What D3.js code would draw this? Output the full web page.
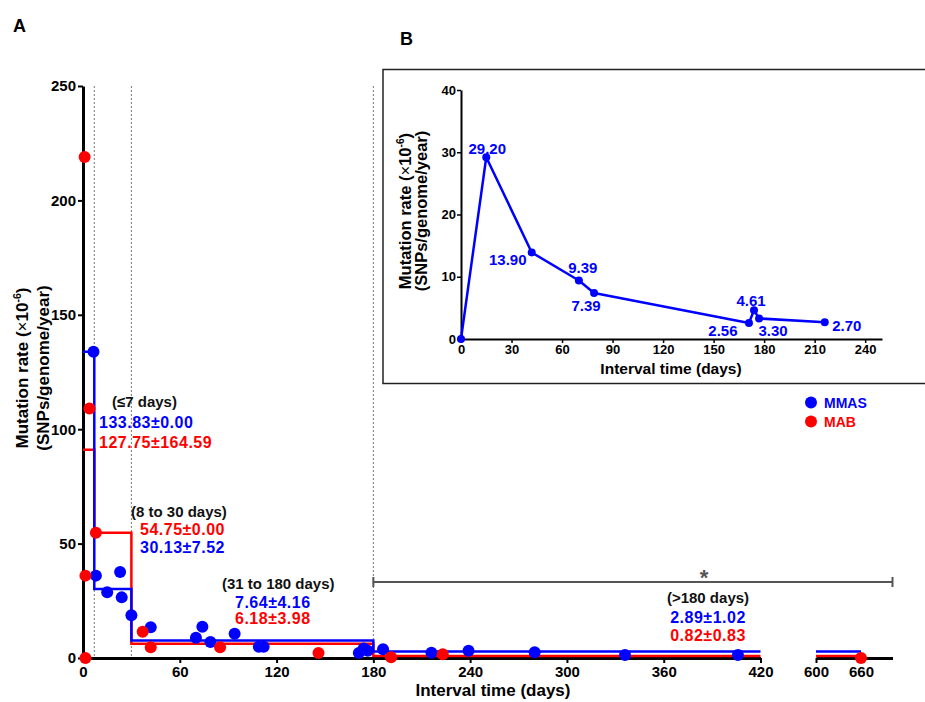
<!DOCTYPE html>
<html><head><meta charset="utf-8">
<script src="https://cdn.jsdelivr.net/npm/d3@7"></script>
<style>
body{margin:0;background:#fff}
svg{display:block;font-family:Arial,"Liberation Sans",sans-serif;font-weight:bold}
</style>
</head><body>
<svg id="c" width="925" height="702"></svg>
<script>
// ---------- data (panel A) ----------
const mmasDays  = [6.5, 8, 15, 23, 24, 30, 42, 70, 74, 79, 94, 109, 112, 171, 174, 176.5, 186, 216, 239, 280, 336, 406];
const mmasRates = [133.8, 36, 28.7, 37.6, 26.5, 18.7, 13.4, 8.9, 13.7, 7.0, 10.6, 4.9, 4.9, 2.2, 4.2, 3.2, 3.8, 2.3, 3.2, 2.5, 1.3, 1.3];
const mabDays   = [1, 1.5, 1.5, 4, 8, 37, 42, 85, 146, 191, 223, 660];
const mabRates  = [219, 36, 0, 109, 54.75, 11.5, 4.7, 4.7, 2.2, 0.3, 1.6, 0];
const groupBreaks = [0, 7, 30, 180, 420];
const tailBreaks  = [600, 660];
const mmasMeans = [133.83, 30.13, 7.64, 2.89];
const mabMeans  = [91, 54.75, 6.18, 0.82];
const groupLabels = ["(\u22647 days)", "(8 to 30 days)", "(31 to 180 days)", "(>180 days)"];
const mmasText = ["133.83\u00b10.00", "30.13\u00b17.52", "7.64\u00b14.16", "2.89\u00b11.02"];
const mabText  = ["127.75\u00b1164.59", "54.75\u00b10.00", "6.18\u00b13.98", "0.82\u00b10.83"];
const yTicks  = [0, 50, 100, 150, 200, 250];
const xTicksA = [0, 60, 120, 180, 240, 300, 360, 420];
const xTicksB = [600, 660];
const seriesNames = ["MMAS", "MAB"];
// ---------- data (panel B) ----------
const insetDays   = [0, 15, 42, 70, 79, 171, 174, 177, 216];
const insetRates  = [0, 29.20, 13.90, 9.39, 7.39, 2.56, 4.61, 3.30, 2.70];
const insetLabels = ["", "29.20", "13.90", "9.39", "7.39", "2.56", "4.61", "3.30", "2.70"];
const insetXTicks = [0, 30, 60, 90, 120, 150, 180, 210, 240];
const insetYTicks = [0, 10, 20, 30, 40];

// ---------- setup ----------
const BLUE = "#0000ff", RED = "#ff0000", GREY = "#555555";
const svg = d3.select("#c");
const xA = d3.scaleLinear().domain([0, 420]).range([83, 760.5]);
const xB = d3.scaleLinear().domain([600, 702]).range([816, 892.5]);
const X = d => d >= 600 ? xB(d) : xA(d);
const y = d3.scaleLinear().domain([0, 250]).range([658, 86]);

// panel letters
svg.append("text").attr("x", 13).attr("y", 32).attr("font-size", 18).text("A");
svg.append("text").attr("x", 400).attr("y", 45).attr("font-size", 18).text("B");

// dotted verticals
svg.append("g").selectAll("line").data([7, 30, 180]).join("line")
  .attr("x1", d => xA(d)).attr("x2", d => xA(d))
  .attr("y1", y(250)).attr("y2", y(0))
  .attr("stroke", GREY).attr("stroke-width", 0.8).attr("stroke-dasharray", "2,2");

// axes
function styleAxis(g, w) {
  g.select(".domain").attr("stroke", "#000").attr("stroke-width", w);
  g.selectAll(".tick line").attr("stroke", "#000").attr("stroke-width", 2);
  g.selectAll(".tick text").attr("font-size", 15).attr("font-weight", "bold")
    .attr("font-family", "Arial, 'Liberation Sans', sans-serif").attr("fill", "#000");
}
const gy = svg.append("g").attr("transform", "translate(83,0)")
  .call(d3.axisLeft(y).tickValues(yTicks).tickSize(5).tickSizeOuter(0).tickPadding(2));
styleAxis(gy, 3);
const gxA = svg.append("g").attr("transform", "translate(0,658)")
  .call(d3.axisBottom(xA).tickValues(xTicksA).tickSize(5).tickSizeOuter(0).tickPadding(3));
styleAxis(gxA, 3);
const gxB = svg.append("g").attr("transform", "translate(0,658)")
  .call(d3.axisBottom(xB).tickValues(xTicksB).tickSize(5).tickSizeOuter(0).tickPadding(3));
styleAxis(gxB, 3);

// axis titles
svg.append("text").attr("x", 493).attr("y", 696).attr("text-anchor", "middle")
  .attr("font-size", 17).text("Interval time (days)");
function yTitle(g, cx, cy, gap, fs) {
  const t = g.append("g").attr("transform", `translate(${cx},${cy}) rotate(-90)`);
  const l1 = t.append("text").attr("text-anchor", "middle").attr("y", 0).attr("font-size", fs);
  l1.append("tspan").text("Mutation rate (");
  l1.append("tspan").attr("font-weight", "normal").text("\u00d7");
  l1.append("tspan").text("10");
  l1.append("tspan").attr("font-size", fs * 0.62).attr("dy", -fs * 0.42).text("-6");
  l1.append("tspan").attr("dy", fs * 0.42).text(")");
  t.append("text").attr("text-anchor", "middle").attr("y", gap).attr("font-size", fs)
    .text("(SNPs/genome/year)");
}
yTitle(svg, 28, 368, 21, 17);

// step (mean) lines
function stepPoints(means) {
  const pts = [];
  for (let i = 0; i < means.length; i++) {
    pts.push([groupBreaks[i], means[i]]);
    pts.push([groupBreaks[i + 1], means[i]]);
  }
  return pts;
}
const line = d3.line().x(d => X(d[0])).y(d => y(d[1]));
[[mabMeans, RED], [mmasMeans, BLUE]].forEach(([m, c]) => {
  svg.append("path").attr("d", line(stepPoints(m))).attr("fill", "none")
    .attr("stroke", c).attr("stroke-width", 2.5);
  svg.append("path").attr("d", line(tailBreaks.map(d => [d, m[m.length - 1]]))).attr("fill", "none")
    .attr("stroke", c).attr("stroke-width", 2.5);
});

// points
const mmasPts = mmasDays.map((d, i) => [d, mmasRates[i]]);
const mabPts = mabDays.map((d, i) => [d, mabRates[i]]);
svg.append("g").selectAll("circle").data(mmasPts).join("circle")
  .attr("cx", d => X(d[0])).attr("cy", d => y(d[1])).attr("r", 6).attr("fill", BLUE);
svg.append("g").selectAll("circle").data(mabPts).join("circle")
  .attr("cx", d => X(d[0])).attr("cy", d => y(d[1])).attr("r", 6).attr("fill", RED);

// group annotations (layout)
const annot = [
  {x: 112, anchor: "start", ys: [407, 428, 448], order: ["g", "b", "r"], nx: 99},
  {x: 131, anchor: "start", ys: [517, 535, 553], order: ["g", "r", "b"], nx: 140},
  {x: 222, anchor: "start", ys: [589, 607.5, 624], order: ["g", "b", "r"], nx: 235},
  {x: 708, anchor: "middle", ys: [603, 622.5, 641], order: ["g", "b", "r"], nx: 708}
];
annot.forEach((a, i) => {
  a.order.forEach((k, j) => {
    const t = svg.append("text").attr("y", a.ys[j]).attr("text-anchor", a.anchor);
    if (k === "g") t.attr("x", a.x).attr("font-size", 15).attr("fill", "#111").text(groupLabels[i]);
    else t.attr("x", a.nx).attr("font-size", 16).attr("letter-spacing", 0.5)
      .attr("fill", k === "b" ? BLUE : RED)
      .text(k === "b" ? mmasText[i] : mabText[i]);
  });
});

// significance bracket
const by = 582;
svg.append("line").attr("x1", xA(180)).attr("x2", xB(702)).attr("y1", by).attr("y2", by)
  .attr("stroke", GREY).attr("stroke-width", 2);
[xA(180), xB(702)].forEach(xx => svg.append("line").attr("x1", xx).attr("x2", xx)
  .attr("y1", by - 5).attr("y2", by + 5).attr("stroke", GREY).attr("stroke-width", 2));
svg.append("text").attr("x", 704).attr("y", 585).attr("text-anchor", "middle")
  .attr("font-size", 22).attr("fill", GREY).text("*");

// legend
[[BLUE, 402.5], [RED, 421.5]].forEach(([c, yy], i) => {
  svg.append("circle").attr("cx", 811).attr("cy", yy).attr("r", 6).attr("fill", c);
  svg.append("text").attr("x", 824).attr("y", yy).attr("dy", "0.36em").attr("font-size", 14)
    .attr("fill", c).text(seriesNames[i]);
});

// ---------- inset (panel B) ----------
svg.append("rect").attr("x", 383).attr("y", 69.5).attr("width", 560).attr("height", 314)
  .attr("fill", "#fff").attr("stroke", "#222").attr("stroke-width", 1.5);
const xi = d3.scaleLinear().domain([0, 250]).range([461, 882]);
const yi = d3.scaleLinear().domain([0, 40]).range([339, 90]);
function styleInset(g) {
  g.select(".domain").attr("stroke", "#000").attr("stroke-width", 2);
  g.selectAll(".tick line").attr("stroke", "#000").attr("stroke-width", 1.5);
  g.selectAll(".tick text").attr("font-size", 13).attr("font-weight", "bold")
    .attr("font-family", "Arial, 'Liberation Sans', sans-serif").attr("fill", "#000");
}
const giy = svg.append("g").attr("transform", "translate(461,0)")
  .call(d3.axisLeft(yi).tickValues(insetYTicks).tickSize(4).tickSizeOuter(0).tickPadding(1));
styleInset(giy);
const gix = svg.append("g").attr("transform", "translate(0,339)")
  .call(d3.axisBottom(xi).tickValues(insetXTicks).tickSize(4).tickSizeOuter(0).tickPadding(2));
styleInset(gix);
svg.append("text").attr("x", 671).attr("y", 374).attr("text-anchor", "middle")
  .attr("font-size", 15.5).text("Interval time (days)");
yTitle(svg, 411, 211, 15.5, 16.5);

const ipts = insetDays.map((d, i) => [d, insetRates[i]]);
svg.append("path").attr("d", d3.line().x(d => xi(d[0])).y(d => yi(d[1]))(ipts))
  .attr("fill", "none").attr("stroke", BLUE).attr("stroke-width", 2.5).attr("stroke-linejoin", "round");
svg.append("g").selectAll("circle").data(ipts).join("circle")
  .attr("cx", d => xi(d[0])).attr("cy", d => yi(d[1])).attr("r", 4).attr("fill", BLUE);
const labelOffsets = [[0, 0], [1, -9], [-24, 7], [4, -12.5], [-8, 13], [-26, 8], [-3, -10], [14, 12], [22, 3.5]];
svg.append("g").selectAll("text").data(ipts).join("text")
  .attr("x", (d, i) => xi(d[0]) + labelOffsets[i][0])
  .attr("y", (d, i) => yi(d[1]) + labelOffsets[i][1])
  .attr("dy", "0.36em").attr("text-anchor", "middle").attr("font-size", 15).attr("fill", BLUE)
  .text((d, i) => insetLabels[i]);
</script>
</body></html>
